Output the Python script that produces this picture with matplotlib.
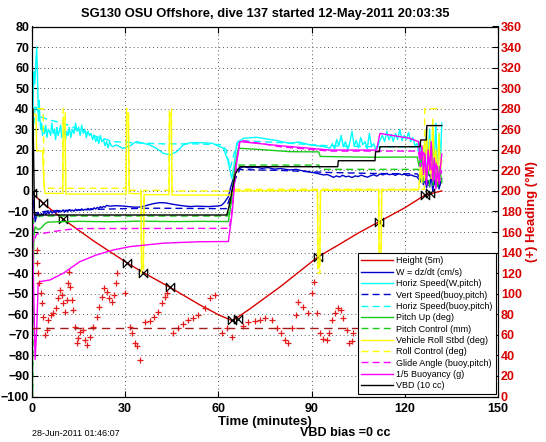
import matplotlib
matplotlib.use('Agg')
import matplotlib.pyplot as plt
from matplotlib.path import Path

plt.rcParams['font.family'] = ['Liberation Sans', 'DejaVu Sans']

# ---------------- data (time in minutes) ----------------
height_t = [0, 3.6, 10.1, 20, 30.5, 35.8, 44.3, 54.1, 60, 64.5, 70, 80, 92.1, 98.6, 105, 111.8, 120, 126.5, 131.9]
height_y = [-1, -6.0, -13.8, -24.5, -34.9, -39.7, -46.8, -55.5, -60.2, -63.2, -57.5, -46.5, -32, -26.3, -20.5, -14.9, -8.2, -2, 0]
mark_t = [0, 3.6, 10.1, 30.5, 35.8, 44.3, 64.4, 66.3, 92.1, 111.8, 126.5, 128.0]
mark_y = [-1, -6.0, -13.8, -34.9, -39.7, -46.8, -63.0, -62.5, -32, -14.9, -2.0, -1.2]

w_t = [0, 0.5, 1.0, 1.5, 2.0, 2.5, 3.0, 3.5, 4.0, 4.5, 5.0, 5.5, 6.0, 6.5, 7.0, 7.5, 8.0, 8.5, 9.0, 9.5,
       10.0, 10.5, 11.0, 11.5, 12.0, 12.5, 13.0, 13.5, 14.0, 14.5, 15.0, 15.5, 16.0, 16.5, 17.0, 17.5, 18.0,
       18.5, 19.0, 19.5, 20.0, 20.5, 21.0, 21.5, 22.0, 22.5, 23.0, 23.5, 24.0, 25, 27, 29, 31, 33, 35, 37,
       39, 41, 43, 45, 47, 49, 51, 53, 55, 57, 59, 60, 61, 62, 63.2, 64, 65, 65.9, 68.0,
       70, 72, 74, 76, 78, 80, 83, 85, 87, 89, 91, 93.8, 95, 96, 97, 98, 99, 100, 101, 102, 103, 104,
       105, 106, 107, 108, 109, 110, 111, 112, 113, 114, 115, 116, 117, 118, 119, 120, 121, 122, 123,
       124, 125, 125.5, 126, 126.5, 127, 127.5, 128, 128.5, 129, 129.5, 130, 130.5, 131, 131.9]
w_y = [0, -6, -15, -12, -10.5, -12.5, -11, -12, -10, -11.5, -10.2, -11, -9.6, -10.8, -9.9, -10.6, -9.4,
       -10.4, -9.7, -10.1, -9.2, -10.3, -9.5, -10.0, -9.1, -9.8, -9.3, -9.9, -8.9, -9.6, -9.0, -9.5, -8.7,
       -9.4, -8.9, -9.2, -8.5, -9.1, -8.6, -8.9, -8.2, -8.8, -8.0, -8.5, -7.6, -8.2, -7.5, -7.9, -7.0,
       -7.4, -7.2, -7.3, -7.6, -7.9, -7.8, -7.0, -6.2, -5.7, -5.8, -6.4, -6.9, -7.3, -7.6, -7.4, -7.5,
       -7.6, -7.4, -7.3, -7.0, -5.5, -2.8, 2, 7, 10.2, 11.8,
       11.2, 11.6, 11.0, 11.4, 10.6, 10.9, 10.2, 10.5, 9.8, 9.3, 8.8, 7.8, 8.0, 7.4, 6.6, 7.3, 6.8, 7.6,
       6.9, 7.2, 6.5, 7.3, 7.0, 7.7, 7.1, 6.7, 7.4, 7.9, 7.2, 8.3, 7.8, 8.5, 7.9, 8.2, 7.6, 8.4, 7.9,
       8.1, 7.4, 7.8, 7.2, 6.8, 4.5, 7, 3, 6, 1.5, 5, 2, 8, 0, 5, 2, 9, 1, 6]

hsw_t = [0.0, 0.3, 0.6, 0.9, 1.2, 1.5, 1.7, 1.9, 2.1, 2.3, 2.5, 2.8, 3.1, 3.4, 3.7, 4.0, 4.4, 4.8, 5.2,
         5.6, 6.0, 6.4, 6.8, 7.2, 7.6, 8.0, 8.4, 8.8, 9.2, 9.6, 10.0, 10.4, 10.8, 11.2, 11.6, 12.0, 12.5,
         13.0, 13.5, 14.0, 14.5, 15.0, 15.5, 16.0, 16.5, 17.0, 17.5, 18.0, 18.5, 19.0, 19.5, 20.0, 20.5,
         21.0, 21.5, 22.0, 22.5, 23.0, 23.5, 24.0, 24.5, 25.0, 25.5, 26.0, 27.1, 29.2, 31.5, 33.6, 35.8,
         37.9, 40.1, 42.3, 44.4, 46.6, 48.7, 50.9, 54.1, 58.0, 61.6, 63.0, 64.3, 65.2, 65.9, 68.0, 72.3,
         78.8, 83.0, 86.0, 89.5, 93.8, 95.9, 96.7, 97.4, 98.1, 98.8, 99.5, 100.2, 100.9, 101.6, 102.3,
         103.0, 103.7, 104.4, 105.1, 105.8, 106.5, 107.2, 107.9, 108.6, 109.3, 110.0, 110.7, 111.4, 112.1,
         112.8, 113.5, 114.2, 114.9, 115.6, 116.3, 117.0, 117.7, 118.4, 119.1, 119.8, 120.5, 121.2, 121.9,
         122.6, 123.3, 124.0, 124.5, 125, 125.5, 126, 126.5, 127, 127.5, 128, 128.5, 129, 129.5, 130,
         130.5, 131, 131.5, 131.9]
hsw_y = [10, 40, 58, 52, 62, 70, 60, 48, 34, 44, 36, 30, 33, 27, 31, 28, 32, 26, 30, 29, 27, 33, 28, 30,
         25, 31, 27, 29, 32, 26, 28, 30, 25, 29, 27, 31, 26, 30, 28, 33, 29, 31, 27, 32, 28, 30, 26, 29, 27,
         28, 25, 27, 24, 26, 23, 27, 24, 25, 22, 24, 21, 24, 22, 21.5, 22.4, 20.7, 21.9, 24.0, 23.2, 22.4,
         20.7, 18.3, 17.5, 19.1, 22.4, 23.5, 23.5, 23.2, 20.8, 15, 6.2, 14, 23.2, 25.6, 26.1, 24.5, 23.2,
         23.8, 22.4, 21.6, 20.8, 23, 20.5, 25, 22, 27, 21.5, 24, 20, 23.5, 29, 22, 24.5, 21, 26, 22.5, 24,
         20.5, 28, 21.5, 23, 20, 22, 25, 27, 24, 29, 25, 27.5, 24, 28, 25, 30, 24.5, 27, 25, 28.5, 24, 26,
         22, 23, 18, 24, 12, 20, 8, 26, 14, 30, 10, 22, 16, 33, 5, 28, 15, 33]

vsb_t = [0, 0.5, 1.0, 2, 5, 10, 20, 30, 40, 50, 60, 62.5, 64, 65.5, 66.9, 80, 95, 110, 124,
         125, 126, 127, 128, 129, 130, 131, 131.9]
vsb_y = [0, -6, -12, -10.5, -9.8, -9.5, -9.0, -8.6, -8.4, -8.5, -8.6, -8.6, -2, 6, 10.4, 10.0, 9.0, 8.5,
         8.3, 6, 9, 4, 8, 3, 7, 2, 5]

hsb_t = [0, 0.5, 1.0, 2.6, 5.8, 10.1, 15.4, 20.8, 26.2, 31.5, 42.3, 53.0, 61.0, 62.5, 63.8, 65.0, 66.5,
         80, 95, 110, 124.4, 125, 126, 127, 128, 129, 130, 131, 131.9]
hsb_y = [0, 30, 42, 36.1, 34.5, 32.9, 29.7, 26.4, 24.0, 23.5, 22.9, 22.9, 22.5, 20, 11, 18, 24.5,
         23.5, 22.0, 21.5, 21.5, 14, 22, 10, 18, 8, 15, 5, 12]

pitch_t = [0, 0.2, 0.6, 1.0, 2.0, 3.0, 4.0, 5.0, 8, 15, 25, 35, 45, 55, 63.2, 64.2, 65.2, 66.4, 75, 83,
           92.3, 92.8, 100, 110, 124, 124.6, 125.2, 125.8, 126.4, 127, 127.6, 128.2, 128.8, 129.4, 130,
           130.6, 131.2, 131.9]
pitch_y = [0, -68, -22, -17.5, -18.8, -18.0, -16.2, -15.2, -15.0, -14.8, -15.0, -14.7, -14.9, -14.8,
           -14.9, -5, 10, 20.8, 20.0, 19.1, 19.0, 16.8, 16.6, 16.4, 16.5, 12, 18, 8, 15, 5, 20, 10, 23, 6,
           14, 2, 12, 4]

pctl_t = [0, 0.2, 0.5, 63.0, 64.0, 65.0, 65.9, 92.3, 92.8, 124.5, 125, 126, 126.5, 127.5, 128, 129,
          129.5, 131.9]
pctl_y = [0, -100, -12.2, -12.2, -5, 5, 12.6, 12.6, 10.5, 10.5, 4, 4, 12, 12, 2, 2, 8, 8]

roll_t = [0, 0.3, 1.3, 1.5, 3.4, 3.8, 4.2, 9.9, 10.1, 10.6, 10.9, 30.3, 30.5, 31.0, 31.3, 35.1, 35.3,
          35.8, 36.1, 44.1, 44.3, 44.8, 45.1, 63.5, 65.5, 91.9, 92.1, 92.6, 92.9, 111.6, 111.8, 112.3,
          112.6, 124.5, 125, 125.5, 126, 126.5, 127, 127.5, 128, 128.5, 129, 129.5, 130, 130.5, 131,
          131.5, 131.9]
roll_y = [30, 38, 37, 19.5, 19.5, 5, -1.2, -1.2, 36, 35, -1.5, -1.5, 38, 37, -1.3, -1.3, -38, -37, -1.8,
          -1.8, 38, 37, -2.0, -2.0, 0, 0.3, -38, -37, 0.3, 0.5, -38, -37, 0.5, 0.5, 12, 4, 22, 8, 30, 10,
          25, 6, 35, 12, 20, 5, 28, 10, 15]

rctl_t = [0, 0.3, 3.6, 3.9, 9.9, 10.0, 10.7, 10.8, 30.3, 30.4, 31.1, 31.2, 35.1, 35.2, 35.9, 36.0, 44.1,
          44.2, 44.9, 45.0, 64.5, 65.5, 91.9, 92.0, 92.7, 92.8, 111.6, 111.7, 112.4, 112.5, 126.3, 126.4,
          131.9]
rctl_y = [-28, 40, 40, 1.3, 1.3, 40, 40, 1.3, 1.3, 40, 40, 0.3, 0.3, -40, -40, 0.3, 0.3, 40, 40, 0, 0,
          0.8, 0.8, -40, -40, 0.8, 0.8, -40, -40, 0.8, 0.8, 40, 40]

glide_t = [0, 0.5, 1.5, 3.6, 10.1, 15, 63.5, 64.5, 65.5, 66.9, 80, 95.9, 124.4, 125, 126, 127, 128, 129,
           130, 131, 131.9]
glide_y = [0, -25, -21, -20.6, -19.0, -18.3, -18.2, -8, 10, 24.7, 21.5, 19.4, 19.4, 12, 20, 8, 16, 6, 14,
           3, 10]

buoy_t = [0, 0.5, 1.0, 1.5, 2.0, 2.6, 5.8, 10.1, 15.4, 20.8, 26.2, 31.5, 42.3, 54.1, 63.2, 64.5, 65.5,
          66.9, 80, 95.9, 110.9, 112.0, 121.6, 124.4, 125, 125.5, 126, 126.5, 127, 127.5, 128, 128.5, 129,
          129.5, 130, 130.5, 131, 131.9]
buoy_y = [-3, -45, -82, -68, -45, -44.1, -43.3, -40.0, -34.4, -31.1, -28.7, -27.1, -25.4, -24.7, -24.6,
          -10, 10, 24.0, 22, 19.9, 19.9, 28.0, 25.6, 24.0, 15, 22, 8, 18, 3, 20, 10, 24, 5, 16, 1, 12, 4, 18]

vbd_t = [0, 0.3, 0.8, 62.7, 63.5, 64.5, 65.5, 66.9, 98.4, 98.6, 110.4, 110.6, 111.8, 112.0, 124.9, 125.1,
         126.9, 127.1, 131.9]
vbd_y = [40, 40, -11.7, -11.7, -7, 1, 8.5, 11.8, 11.8, 14.7, 14.7, 19.1, 19.1, 21.5, 21.5, 24.8, 24.8,
         31.8, 31.8]

# heading (degrees, right axis)
head_t = [1.5, 1.6, 2.0, 2.4, 2.8, 3.1, 3.6, 4.2, 4.7, 5.3, 6.0, 6.9, 7.7, 8.5, 9.0, 9.6, 10.1, 10.6,
          11.4, 11.7, 12.0, 12.1, 12.8, 13.1, 13.8, 14.4, 14.9, 15.4, 16.3, 17.1, 17.8, 18.7, 19.7, 20.8,
          21.7, 22.4, 23.2, 24.0, 24.9, 25.6, 26.4, 27.0, 27.5, 29.9, 31.5, 32.1, 33.1, 33.9, 34.8, 36.4,
          38.0, 39.3, 40.7, 41.7, 42.8, 43.3, 45.5, 47.1, 48.7, 50.3, 51.9, 53.5, 55.7, 57.3, 58.9, 61.0,
          62.7, 64.3, 68.0, 69.6, 71.8, 73.4, 75.0, 77.1, 79.0, 80.0, 81.4, 82.5, 83.6, 85.0, 85.7, 87.3,
          88.9, 90.0, 90.8, 91.8, 92.7, 93.8, 94.8, 95.7, 96.5, 97.5, 98.6, 99.4, 100.2, 101.3, 102.1,
          102.9, 103.4]
head_v = [142.6, 129.6, 120, 110, 100.4, 90.8, 77.8, 60, 64.8, 74.4, 79.4, 81, 85.8, 95.6, 103.6, 98.8,
          90.8, 82.6, 94, 110.2, 121.4, 106.8, 94, 84.2, 68, 51.8, 56.6, 63.2, 64.8, 55, 50.2, 58.2, 68,
          77.8, 87.4, 97.2, 105.4, 102, 95.6, 92.2, 98.8, 110.2, 120, 100.4, 68, 62.2, 51.8, 49.6, 35.6,
          72.8, 73.8, 77.8, 82.6, 90.8, 97.2, 100.4, 62.2, 66.4, 70.6, 74.4, 76.2, 79.4, 85.8, 95.6, 98.8,
          61.6, 66.4, 58.2, 68.6, 72.8, 73.8, 74.4, 76.2, 74.4, 66.4, 61.6, 55, 52.4, 66.4, 79.4, 92.2,
          87.4, 81, 100.4, 111.8, 81, 61.6, 55.8, 55, 61.6, 74.4, 81, 85.8, 84.2, 76.2, 64.8, 51.8, 54.4,
          61.6]
head_des_t = [0, 131.9]
head_des_v = [67, 67]

labels = ['Height (5m)', 'W = dz/dt (cm/s)', 'Horiz Speed(W,pitch)', 'Vert Speed(buoy,pitch)',
          'Horiz Speed(buoy,pitch)', 'Pitch Up (deg)', 'Pitch Control (mm)', 'Vehicle Roll Stbd (deg)',
          'Roll Control (deg)', 'Glide Angle (buoy,pitch)', '1/5 Buoyancy (g)', 'VBD (10 cc)']

xticks = [0, 30, 60, 90, 120, 150]
yticks = list(range(-100, 81, 10))
rticks = list(range(0, 361, 20))

# ---------------- figure ----------------
W, H = 546, 442
fig = plt.figure(figsize=(W / 100, H / 100), dpi=100)
ax = fig.add_axes([32 / W, 1 - 396.5 / H, 466 / W, 370 / H])
ax2 = ax.twinx()

lw = 1.0
blue = (0, 0, 0.8)
green = (0.1, 0.8, 0.1)
hl, = ax.plot(height_t, height_y, color=(0.85, 0, 0), lw=lw)
bowtie = Path([(-1, -1), (-1, 1), (1, -1), (1, 1), (-1, -1)],
              [Path.MOVETO, Path.LINETO, Path.LINETO, Path.LINETO, Path.CLOSEPOLY])
ax.plot(mark_t, mark_y, linestyle='none', marker=bowtie, markersize=6, markerfacecolor='none',
        markeredgecolor='k', markeredgewidth=0.9)
h1, = ax.plot(w_t, w_y, color=blue, lw=lw)
h2, = ax.plot(hsw_t, hsw_y, color='cyan', lw=lw)
h3, = ax.plot(vsb_t, vsb_y, color=blue, lw=lw, ls=(0, (5, 3)))
h4, = ax.plot(hsb_t, hsb_y, color='cyan', lw=lw, ls=(0, (5, 3)))
h5, = ax.plot(pitch_t, pitch_y, color=green, lw=lw)
h6, = ax.plot(pctl_t, pctl_y, color=green, lw=lw, ls=(0, (5, 3)))
h7, = ax.plot(roll_t, roll_y, color='yellow', lw=lw)
h8, = ax.plot(rctl_t, rctl_y, color='yellow', lw=lw, ls=(0, (5, 3)))
h9, = ax.plot(glide_t, glide_y, color='magenta', lw=lw, ls=(0, (5, 3)))
h10, = ax.plot(buoy_t, buoy_y, color='magenta', lw=lw)
h11, = ax.plot(vbd_t, vbd_y, color='k', lw=lw)

ax2.plot(head_t, head_v, linestyle='none', marker='+', markersize=4, color=(0.9, 0.1, 0.1),
         markeredgewidth=0.9)
ax2.plot(head_des_t, head_des_v, color=(0.65, 0.1, 0.1), lw=1.0, ls=(0, (6, 4)))

ax.set_xlim(0, 150)
ax.set_ylim(-100, 80)
ax2.set_ylim(0, 360)
ax.set_xticks(xticks)
ax.set_yticks(yticks)
ax2.set_yticks(rticks)
ax.grid(True, linestyle=(0, (1, 3)), color='0.35', linewidth=0.7)
ax.tick_params(direction='in', top=True, length=4, width=0.8, labelsize=9, pad=2)
ax.tick_params(axis='x', pad=5)
ax2.tick_params(direction='in', length=4, width=0.8, labelsize=9, labelcolor=(0.85, 0, 0), pad=2)
for lab in ax.get_xticklabels() + ax.get_yticklabels() + ax2.get_yticklabels():
    lab.set_fontweight('bold')
ax.set_xlabel('Time (minutes)', fontsize=9.5, fontweight='bold', labelpad=0.5)
ax2.set_ylabel('(+) Heading (°M)', fontsize=9.5, fontweight='bold', color=(0.85, 0, 0), labelpad=3)
ax.set_title('SG130 OSU Offshore, dive 137 started 12-May-2011 20:03:35', fontsize=9.3,
             fontweight='bold', pad=7)

handles = [hl, h1, h2, h3, h4, h5, h6, h7, h8, h9, h10, h11]
leg = ax2.legend(handles, labels, loc='lower right', bbox_to_anchor=(0.996, 0.007), borderaxespad=0,
                 fontsize=6.5, labelspacing=0.26, handlelength=3.5, handletextpad=0.35,
                 borderpad=0.4, fancybox=False, framealpha=1, edgecolor='k')
leg.get_frame().set_linewidth(0.8)

fig.text(32 / W, 1 - 433 / H, '28-Jun-2011 01:46:07', fontsize=6.5, va='center', ha='left')
fig.text(300 / W, 1 - 433 / H, 'VBD bias =0 cc', fontsize=9, fontweight='bold', va='center', ha='left')

fig.savefig('out.png', dpi=100)
